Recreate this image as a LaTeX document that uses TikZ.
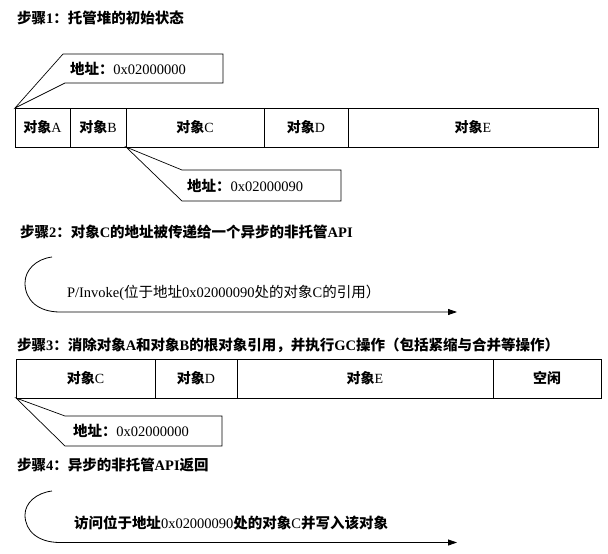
\documentclass[tikz,border=0pt]{standalone}
\usepackage{fontspec}
\setmainfont{Liberation Serif}
\newfontfamily\cjk{Noto Sans CJK SC}
\usetikzlibrary{arrows.meta}
\newcommand\zh[1]{{\cjk #1}}
\newcommand\zhb[1]{{\cjk\bfseries #1}}
\begin{document}
\begin{tikzpicture}[x=1pt,y=-1pt,
  every node/.style={inner sep=0pt, outer sep=0pt},
  txt/.style={font=\fontsize{14.5}{17}\selectfont, anchor=west},
  ttl/.style={font=\fontsize{14.5}{17}\selectfont\bfseries, anchor=west},
  cell/.style={draw, line width=0.9pt, minimum height=39pt, font=\fontsize{14}{17}\selectfont},
  callout/.style={draw, line width=0.7pt, line join=miter},
  flow/.style={line width=0.8pt, -{Triangle[length=9pt,width=6pt]}}]
\useasboundingbox (0,0) rectangle (608,554);

% Step 1
\node[ttl] (t1) at (17,18) {\zh{步骤}1\zh{：托管堆的初始状态}};
\node[cell, minimum width=55pt]  (a1) at (42.5,127.5) {\zhb{对象}A};
\node[cell, minimum width=56pt]  (b1) at (98,127.5)   {\zhb{对象}B};
\node[cell, minimum width=138pt] (c1) at (195,127.5)  {\zhb{对象}C};
\node[cell, minimum width=84pt]  (d1) at (306,127.5)  {\zhb{对象}D};
\node[cell, minimum width=250pt] (e1) at (473,127.5)  {\zhb{对象}E};
\draw[callout] (a1.north west) -- (63,54) -- (223,54) -- (223,83) -- (65,83) -- cycle;
\node[txt] (ad1) at (70,69) {\zhb{地址：}0x02000000};
\draw[callout] (b1.south east) -- (182,170) -- (341,170) -- (341,201) -- (182,201) -- cycle;
\node[txt] (ad2) at (187,185.5) {\zhb{地址：}0x02000090};

% Step 2
\node[ttl] (t2) at (20,232) {\zh{步骤}2\zh{：对象}C\zh{的地址被传递给一个异步的非托管}API};
\coordinate (s2) at (52,257);
\coordinate (e2) at (457,312);
\draw[flow] (s2) .. controls (36,259) and (25,270) .. (25,283) .. controls (25,300) and (38,312) .. (60,312) -- (e2);
\node[txt] (p2) at (67,293) {P/Invoke(\zh{位于地址}0x02000090\zh{处的对象}C\zh{的引用）}};

% Step 3
\node[ttl] (t3) at (17,345) {\zh{步骤}3\zh{：消除对象}A\zh{和对象}B\zh{的根对象引用，并执行}GC\zh{操作（包括紧缩与合并等操作）}};
\node[cell, minimum width=139pt] (c3) at (85.5,378.5) {\zhb{对象}C};
\node[cell, minimum width=82pt]  (d3) at (196,378.5)  {\zhb{对象}D};
\node[cell, minimum width=256pt] (e3) at (365,378.5)  {\zhb{对象}E};
\node[cell, minimum width=108pt] (f3) at (547,378.5)  {\zhb{空闲}};
\draw[callout] (c3.south west) -- (65,416) -- (222,416) -- (222,446) -- (65,446) -- cycle;
\node[txt] (ad3) at (73,431) {\zhb{地址：}0x02000000};

% Step 4
\node[ttl] (t4) at (17,465) {\zh{步骤}4\zh{：异步的非托管}API\zh{返回}};
\coordinate (s4) at (52,491);
\coordinate (e4) at (457,542.5);
\draw[flow] (s4) .. controls (36,493) and (25,503) .. (25,515) .. controls (25,531) and (38,542.5) .. (60,542.5) -- (e4);
\node[txt] (p4) at (74,523) {\zhb{访问位于地址}0x02000090\zhb{处的对象}C\zhb{并写入该对象}};
\end{tikzpicture}
\end{document}
